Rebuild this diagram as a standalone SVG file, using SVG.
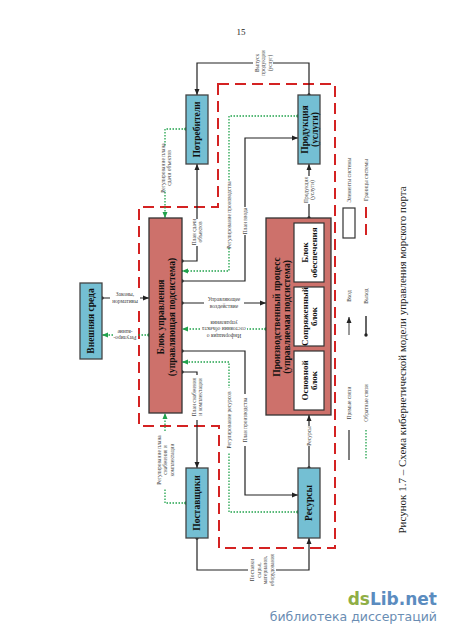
<svg xmlns="http://www.w3.org/2000/svg" width="450" height="637" viewBox="0 0 450 637">
<style>
.bb{fill:#74bfd3;stroke:#444;stroke-width:1.3}
.br{fill:#cd716b;stroke:#333;stroke-width:1.3}
.bw{fill:#fff;stroke:#333;stroke-width:1.2}
.ln{fill:none;stroke:#222;stroke-width:1.2}
.fb{fill:none;stroke:#21a24c;stroke-width:1.3;stroke-dasharray:1.5 1.5}
.bd{fill:none;stroke:#d42222;stroke-width:2;stroke-dasharray:11 6}
.t{font-family:"Liberation Serif",serif;font-size:5.5px;fill:#444;text-anchor:middle}
.tb{font-family:"Liberation Serif",serif;font-weight:bold;fill:#111;font-size:9.5px;text-anchor:middle}
.ti{font-family:"Liberation Serif",serif;font-weight:bold;fill:#111;font-size:9px;text-anchor:middle}
.bg{fill:#fff}
</style>
<defs>
<marker id="a" markerUnits="userSpaceOnUse" markerWidth="7" markerHeight="6" refX="6" refY="3" orient="auto"><path d="M0,0.5 L6,3 L0,5.5 z" fill="#222"/></marker>
<marker id="d" markerUnits="userSpaceOnUse" markerWidth="5" markerHeight="5" refX="2.5" refY="2.5"><circle cx="2.5" cy="2.5" r="1.7" fill="#222"/></marker>
<marker id="ag" markerUnits="userSpaceOnUse" markerWidth="7" markerHeight="6" refX="6" refY="3" orient="auto"><path d="M0,0.5 L6,3 L0,5.5 z" fill="#21a24c"/></marker>
<marker id="dg" markerUnits="userSpaceOnUse" markerWidth="5" markerHeight="5" refX="2.5" refY="2.5"><circle cx="2.5" cy="2.5" r="1.7" fill="#21a24c"/></marker>
</defs>
<rect width="450" height="637" fill="#fff"/>
<text x="241" y="35" style="font-family:'Liberation Serif',serif;font-size:9px;fill:#222;text-anchor:middle">15</text>

<path class="bd" d="M218,84 H335 V548 H219 V426 H139 V207 H218 Z"/>

<g id="connectors">
<path class="ln" d="M309,95 V63 H197 V95" marker-start="url(#d)" marker-end="url(#a)"/>
<path class="ln" d="M182,261 H197 V164" marker-start="url(#d)" marker-end="url(#a)"/>
<path class="ln" d="M182,281 H245 V138 H298" marker-start="url(#d)" marker-end="url(#a)"/>
<path class="ln" d="M182,303 H266" marker-start="url(#d)" marker-end="url(#a)"/>
<path class="ln" d="M182,351 H245 V495 H298" marker-start="url(#d)" marker-end="url(#a)"/>
<path class="ln" d="M182,372 H197 V468" marker-start="url(#d)" marker-end="url(#a)"/>
<path class="ln" d="M102,298 H149" marker-start="url(#d)" marker-end="url(#a)"/>
<path class="ln" d="M197,538 V570 H309 V538" marker-start="url(#d)" marker-end="url(#a)"/>
<path class="ln" d="M309,468 V415" marker-start="url(#d)" marker-end="url(#a)"/>
<path class="ln" d="M309,218 V164" marker-start="url(#d)" marker-end="url(#a)"/>
<path class="fb" d="M186,129 H165 V218" marker-start="url(#dg)" marker-end="url(#ag)"/>
<path class="fb" d="M298,116 H229 V271 H182" marker-start="url(#dg)" marker-end="url(#ag)"/>
<path class="fb" d="M266,329 H182" marker-start="url(#dg)" marker-end="url(#ag)"/>
<path class="fb" d="M298,512 H229 V362 H182" marker-start="url(#dg)" marker-end="url(#ag)"/>
<path class="fb" d="M186,503 H165 V413" marker-start="url(#dg)" marker-end="url(#ag)"/>
<path class="fb" d="M149,335 H102" marker-start="url(#dg)" marker-end="url(#ag)"/>

<rect class="bg" x="253" y="51" width="20" height="24"/>
<text class="t" transform="translate(263,63) rotate(-90)"><tspan x="0" y="-4.5">Выпуск</tspan><tspan x="0" y="2">продукции</tspan><tspan x="0" y="8.5">(услуг)</tspan></text>
<rect class="bg" x="159" y="146" width="14" height="44"/>
<text class="t" transform="translate(166,168) rotate(-90)"><tspan x="0" y="-1.3">Регулирование плана</tspan><tspan x="0" y="5.2">сдачи объектов</tspan></text>
<rect class="bg" x="190" y="219" width="14" height="27"/>
<text class="t" transform="translate(197,232) rotate(-90)"><tspan x="0" y="-1.3">План сдачи</tspan><tspan x="0" y="5.2">объектов</tspan></text>
<rect class="bg" x="226" y="182" width="6" height="66"/>
<text class="t" transform="translate(229,215) rotate(-90)" y="2">Регулирование производства</text>
<rect class="bg" x="242" y="207" width="6" height="28"/>
<text class="t" transform="translate(245,221) rotate(-90)" y="2">План ввода</text>
<rect class="bg" x="301" y="176" width="15" height="28"/>
<text class="t" transform="translate(309,190) rotate(-90)"><tspan x="0" y="-1.3">Продукция</tspan><tspan x="0" y="5.2">(услуги)</tspan></text>
<rect class="bg" x="204" y="295" width="40" height="15"/>
<text class="t"><tspan x="224" y="300.5">Управляющее</tspan><tspan x="224" y="307.5">воздействие</tspan></text>
<rect class="bg" x="201" y="316" width="46" height="25"/>
<text class="t" transform="translate(224,329) rotate(180)"><tspan x="0" y="-4.5">Информация о</tspan><tspan x="0" y="2">состоянии объекта</tspan><tspan x="0" y="8.5">управления</tspan></text>
<rect class="bg" x="190" y="375" width="14" height="45"/>
<text class="t" transform="translate(197,397) rotate(-90)"><tspan x="0" y="-1.3">План снабжения</tspan><tspan x="0" y="5.2">и комплектации</tspan></text>
<rect class="bg" x="226" y="388" width="6" height="65"/>
<text class="t" transform="translate(229,420) rotate(-90)" y="2">Регулирование ресурсов</text>
<rect class="bg" x="242" y="394" width="6" height="52"/>
<text class="t" transform="translate(245,420) rotate(-90)" y="2">План производства</text>
<rect class="bg" x="153" y="431" width="23" height="58"/>
<text class="t" transform="translate(165,460) rotate(-90)"><tspan x="0" y="-4.5">Регулирование плана</tspan><tspan x="0" y="2">снабжения и</tspan><tspan x="0" y="8.5">комплектации</tspan></text>
<rect class="bg" x="248" y="555" width="28" height="30"/>
<text class="t" transform="translate(262,570) rotate(-90)"><tspan x="0" y="-7.8">Поставки</tspan><tspan x="0" y="-1.3">сырья,</tspan><tspan x="0" y="5.2">материалов,</tspan><tspan x="0" y="11.7">оборудования</tspan></text>
<rect class="bg" x="306" y="426" width="6" height="20"/>
<text class="t" transform="translate(309,436) rotate(-90)" y="2">Ресурсы</text>
<rect class="bg" x="110" y="289" width="30" height="16"/>
<text class="t"><tspan x="125" y="295.5">Законы,</tspan><tspan x="125" y="302.5">нормативы</tspan></text>
<rect class="bg" x="113" y="328" width="24" height="14"/>
<text class="t" transform="translate(125,335) rotate(180)"><tspan x="0" y="-1.3">Регулиро-</tspan><tspan x="0" y="5.2">-вание</tspan></text>
</g>

<g id="potrebiteli"><rect class="bb" x="186" y="95" width="22" height="69"/><text class="tb" transform="translate(197,129.5) rotate(-90)" y="3.3">Потребители</text></g>
<g id="produkciya"><rect class="bb" x="298" y="95" width="22" height="69"/><text class="tb" transform="translate(309,129.5) rotate(-90)"><tspan x="0" y="-1.5">Продукция</tspan><tspan x="0" y="8.5">(услуги)</tspan></text></g>
<g id="postavshiki"><rect class="bb" x="186" y="468" width="22" height="70"/><text class="tb" transform="translate(197,503) rotate(-90)" y="3.3">Поставщики</text></g>
<g id="resursy"><rect class="bb" x="298" y="468" width="22" height="70"/><text class="tb" transform="translate(309,503) rotate(-90)" y="3.3">Ресурсы</text></g>
<g id="vneshnyaya"><rect class="bb" x="80" y="283" width="22" height="76"/><text class="tb" transform="translate(91,321) rotate(-90)" y="3.3">Внешняя среда</text></g>
<g id="blok-upr"><rect class="br" x="149" y="218" width="33" height="195"/><text class="tb" transform="translate(165.5,317) rotate(-90)"><tspan x="0" y="-2">Блок управления</tspan><tspan x="0" y="9">(управляющая подсистема)</tspan></text></g>
<g id="proizv"><rect class="br" x="266" y="218" width="65" height="197"/><text class="tb" transform="translate(281,317) rotate(-90)"><tspan x="0" y="-1.5">Производственный процесс</tspan><tspan x="0" y="8.5">(управляемая подсистема)</tspan></text>
<g id="obesp"><rect class="bw" x="294" y="223" width="30" height="59"/><text class="ti" transform="translate(309,252.5) rotate(-90)"><tspan x="0" y="-1.5">Блок</tspan><tspan x="0" y="8">обеспечения</tspan></text></g>
<g id="sopr"><rect class="bw" x="294" y="287" width="30" height="59"/><text class="ti" transform="translate(309,316.5) rotate(-90)"><tspan x="0" y="-1.5">Сопряженный</tspan><tspan x="0" y="8">блок</tspan></text></g>
<g id="osnov"><rect class="bw" x="294" y="351" width="30" height="59"/><text class="ti" transform="translate(309,380.5) rotate(-90)"><tspan x="0" y="-1.5">Основной</tspan><tspan x="0" y="8">блок</tspan></text></g>
</g>

<g id="legend">
<text class="t" transform="translate(349,180) rotate(-90)" y="2">Элементы системы</text>
<rect class="bw" x="343" y="208" width="12" height="30"/>
<text class="t" transform="translate(366,180) rotate(-90)" y="2">Границы системы</text>
<path class="bd" d="M366,207 V238"/>
<text class="t" transform="translate(349,296) rotate(-90)" y="2">Вход</text>
<path d="M349,335 V317" stroke="#555" stroke-width="1.2" marker-end="url(#a)"/>
<text class="t" transform="translate(366,296) rotate(-90)" y="2">Выход</text>
<path d="M366,316 V335" stroke="#333" stroke-width="1.5" marker-end="url(#d)"/>
<text class="t" transform="translate(349,403) rotate(-90)" y="2">Прямые связи</text>
<path d="M349,430 V460" stroke="#555" stroke-width="1.5"/>
<text class="t" transform="translate(366,403) rotate(-90)" y="2">Обратные связи</text>
<path class="fb" d="M366,430 V460"/>
</g>

<text transform="translate(402,360) rotate(-90)" y="3.5" style="font-family:'Liberation Serif',serif;font-size:11px;fill:#222;text-anchor:middle">Рисунок 1.7 – Схема кибернетической модели управления морского порта</text>

<text x="437" y="605" style="font-family:'DejaVu Sans',sans-serif;font-weight:bold;font-size:17px;text-anchor:end"><tspan fill="#8fae45">ds</tspan><tspan fill="#5b8cbf">Lib.net</tspan></text>
<text x="437" y="621" style="font-family:'DejaVu Sans',sans-serif;font-size:12.5px;fill:#6a8db3;text-anchor:end">библиотека диссертаций</text>
</svg>
